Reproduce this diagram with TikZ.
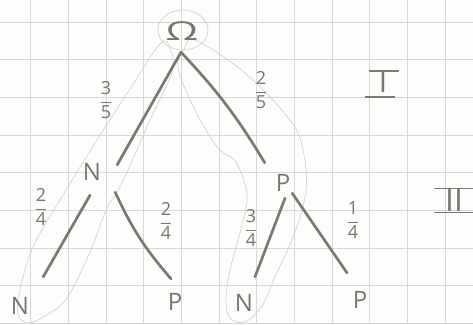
\documentclass[tikz,border=0pt]{standalone}
\usepackage{fontspec}
\setmainfont{Open Sans}
\definecolor{pencil}{RGB}{125,120,115}
\definecolor{pencilt}{RGB}{122,117,112}
\definecolor{gridc}{RGB}{216,216,216}
\definecolor{faintc}{RGB}{205,205,205}
\definecolor{paper}{RGB}{253,253,251}
\begin{document}
\begin{tikzpicture}[x=1pt,y=-1pt,
  lbl/.style={text=pencilt, font=\fontsize{24}{24}\selectfont, inner sep=0pt, minimum width=20pt, minimum height=20pt},
  frac/.style={text=pencilt, font=\fontsize{18}{18}\selectfont, inner sep=0pt},
  roman/.style={text=pencilt, font=\fontsize{30}{30}\selectfont, inner sep=0pt},
  edge/.style={draw=pencil, line width=2.7pt, line cap=round},
  numbar/.style={draw=pencil, line width=1.6pt, line cap=round},
  faintline/.style={draw=faintc, line width=0.6pt},
  gridline/.style={draw=gridc, line width=0.9pt}]
\useasboundingbox (0,0) rectangle (473,324);
\fill[paper] (0,0) rectangle (473,324);
% grid paper
\foreach \i in {0,...,11} {\draw[gridline] ({30.7+37.67*\i},0) -- ++(0,324);}
\foreach \j in {0,...,8} {\draw[gridline] (0,{22+37.67*\j}) -- ++(473,0);}
% faint outlines
\draw[faintline] (183,30) ellipse [x radius=25, y radius=20];
\draw[faintline] plot[smooth cycle, tension=0.6] coordinates {
  (160,44) (128,92) (97,140) (60,200) (33,247) (20,290) (18,314) (28,323)
  (45,316) (67,298) (90,252) (107,208) (122,183) (150,120) (172,72) (170,48)};
\draw[faintline] plot[smooth cycle, tension=0.6] coordinates {
  (195,40) (245,73) (290,120) (303,150) (306,190) (295,232) (275,277) (262,306)
  (245,322) (230,318) (226,300) (230,270) (242,225) (247,195) (236,162) (218,148)
  (195,110) (178,68) (184,50)};
% nodes
\node[lbl, font=\fontsize{26}{26}\selectfont, xscale=1.6, minimum height=22pt, minimum width=14pt] (root) at (182,31) {Ω};
\node[lbl] (n1) at (92,172) {N};
\node[lbl] (p1) at (283,183) {P};
\node[lbl] (nl1) at (20,306) {N};
\node[lbl] (pl1) at (175,302) {P};
\node[lbl] (nl2) at (244,303) {N};
\node[lbl] (pl2) at (360,300) {P};
% edges
\draw[edge] ([shift={(-1,10)}]root.south) -- ([shift={(15,3)}]n1.north east);
\draw[edge] ([shift={(-1,10)}]root.south) to[bend left=6] ([shift={(-8,-10)}]p1.north west);
\draw[edge] ([shift={(-2,13)}]n1.south) -- ([shift={(13,-19)}]nl1.north east);
\draw[edge] ([shift={(13,10)}]n1.south east) to[bend right=8] ([shift={(-4,-13)}]pl1.north);
\draw[edge] ([shift={(2,5)}]p1.south) -- ([shift={(11,-16)}]nl2.north);
\draw[edge] ([shift={(-1,0)}]p1.south east) -- ([shift={(-13,-17)}]pl2.north);
% probabilities
\node[frac] (f35) at (106,100) {$\displaystyle\frac{\mbox{3}}{\mbox{5}}$};
\node[frac] (f25) at (261,90) {$\displaystyle\frac{\mbox{2}}{\mbox{5}}$};
\node[frac] (f24a) at (41,207) {$\displaystyle\frac{\mbox{2}}{\mbox{4}}$};
\node[frac] (f24b) at (166,221) {$\displaystyle\frac{\mbox{2}}{\mbox{4}}$};
\node[frac] (f34) at (251,228) {$\displaystyle\frac{\mbox{3}}{\mbox{4}}$};
\node[frac] (f14) at (353,220) {$\displaystyle\frac{\mbox{1}}{\mbox{4}}$};
% stage numerals
\node[roman] (nI) at (383,82) {I};
\draw[numbar] ([shift={(-9,0)}]nI.north west) -- ([shift={(11,0)}]nI.north east);
\draw[numbar] ([shift={(-13,4)}]nI.south west) -- ([shift={(7,4)}]nI.south east);
\node[roman, font=\fontsize{32}{32}\selectfont] (nII) at (454,200) {II};
\draw[numbar] ([shift={(-10,0)}]nII.north west) -- ([shift={(12,0)}]nII.north east);
\draw[numbar] ([shift={(-10,1)}]nII.south west) -- ([shift={(12,1)}]nII.south east);
\end{tikzpicture}
\end{document}
